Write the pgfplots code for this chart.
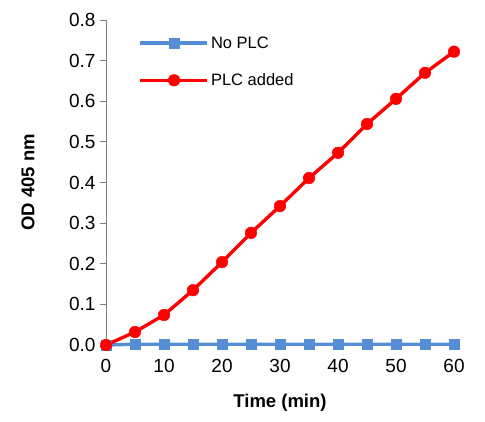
\documentclass[border=0pt]{standalone}
\usepackage{pgfplots}
\pgfplotsset{compat=1.18}
\usepackage{fontspec}
\setmainfont{Liberation Sans}
\definecolor{myblue}{RGB}{85,142,213}
\definecolor{myred}{RGB}{255,0,0}
\definecolor{axgray}{RGB}{128,128,128}
\begin{document}
\begin{tikzpicture}
\begin{axis}[
  scale only axis,
  width=348pt, height=325pt,
  xmin=0, xmax=60, ymin=0, ymax=0.8,
  axis x line*=bottom, axis y line*=left,
  axis line style={axgray, line width=0.8pt},
  xtick={0,10,...,60},
  ytick={0,0.1,...,0.8},
  yticklabel style={/pgf/number format/fixed, /pgf/number format/fixed zerofill, /pgf/number format/precision=1, xshift=-1pt},
  xticklabel style={yshift=-5pt},
  /pgf/number format/assume math mode=true,
  x tick style={draw=none},
  y tick style={axgray, line width=0.8pt},
  tick align=outside,
  major tick length=6pt,
  tick label style={font=\fontsize{19}{22}\selectfont},
  xlabel={\textbf{Time (min)}},
  ylabel={\textbf{OD 405 nm}},
  label style={font=\fontsize{18.5}{22}\selectfont},
  xlabel style={at={(axis description cs:0.5,-0.178)}, anchor=center},
  ylabel style={at={(axis description cs:-0.224,0.5)}, anchor=center},
  clip=false,
  legend style={draw=none, fill=none, at={(0.085,0.962)}, anchor=north west, font=\fontsize{16.5}{19}\selectfont, row sep=20pt},
  legend cell align=left,
  legend image code/.code={
    \draw[#1, mark=none] (0cm,0cm) -- (2.35cm,0cm);
    \draw[#1] plot coordinates {(1.18cm,0cm)};
  },
]
\addplot[color=myblue, line width=3.4pt, mark=square*, mark size=5pt, mark options={solid, line width=0.5pt}] coordinates {
(0,0) (5,0.002) (10,0.002) (15,0.002) (20,0.002) (25,0.002) (30,0.002) (35,0.002) (40,0.002) (45,0.002) (50,0.002) (55,0.002) (60,0.002)
};
\addlegendentry{No PLC}
\addplot[color=myred, line width=3.4pt, mark=*, mark size=5.8pt, mark options={solid, line width=0.5pt}] coordinates {
(0,0) (5,0.032) (10,0.074) (15,0.135) (20,0.204) (25,0.276) (30,0.342) (35,0.411) (40,0.473) (45,0.544) (50,0.606) (55,0.670) (60,0.722)
};
\addlegendentry{PLC added}
\path (axis description cs:-0.3046,-0.2338) rectangle (axis description cs:1.089,1.0615);
\end{axis}
\end{tikzpicture}
\end{document}
